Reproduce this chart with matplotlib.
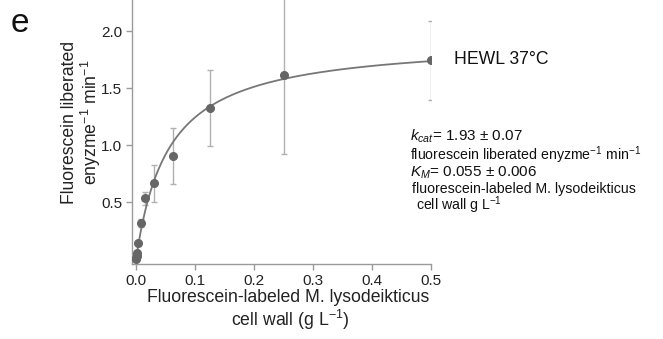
import numpy as np
import matplotlib
matplotlib.use("Agg")
import matplotlib.pyplot as plt

plt.rcParams['font.family'] = ['Liberation Sans', 'DejaVu Sans']
plt.rcParams['mathtext.fontset'] = 'custom'
plt.rcParams['mathtext.rm'] = 'Liberation Sans'
plt.rcParams['mathtext.it'] = 'Liberation Sans:italic'

# data
conc = [0.5, 0.25, 0.125, 0.0625, 0.03125, 0.015625, 0.0078125,
        0.00390625, 0.001953125, 0.0009765625, 0.00048828125, 0.000244140625]
rate = [1.748, 1.617, 1.325, 0.909, 0.667, 0.535, 0.321,
        0.140, 0.058, 0.025, 0.010, 0.002]
err = [0.346, 0.69, 0.332, 0.247, 0.162, 0.06, 0.035,
       0.02, 0.01, 0.01, 0.005, 0.005]
kcat = 1.93
Km = 0.055
x_ticks = [0.0, 0.1, 0.2, 0.3, 0.4, 0.5]
y_ticks = [0.5, 1.0, 1.5, 2.0]

W, H = 663, 339
fig = plt.figure(figsize=(W / 100, H / 100), dpi=100)
ax = fig.add_axes([132 / W, (H - 264) / H, (431 - 132) / W, 264 / H])

gray = '#9a9a9a'
ax.errorbar(conc, rate, yerr=err, fmt='none', ecolor='#b0b0b0',
            elinewidth=1.0, capsize=2.2, capthick=1.0, zorder=1)
xs = np.linspace(0, 0.5, 400)
ax.plot(xs, kcat * xs / (Km + xs), color='#777777', lw=1.3, zorder=2)
ax.plot(conc, rate, 'o', color='#666666', ms=5.5, mec='#666666', zorder=3)

ax.set_xlim(-0.0068, 0.5)
ax.set_ylim(-0.041, 2.275)
ax.set_xticks(x_ticks)
ax.set_xticklabels([f'{t:.1f}' for t in x_ticks])
ax.set_yticks(y_ticks)
ax.set_yticklabels([f'{t:.1f}' for t in y_ticks])
for s in ['top', 'right']:
    ax.spines[s].set_visible(False)
for s in ['left', 'bottom']:
    ax.spines[s].set_color(gray)
    ax.spines[s].set_linewidth(1.0)
ax.tick_params(axis='both', colors=gray, labelcolor='#222222', labelsize=11,
               length=4, width=1.0, direction='out', pad=3)

# labels
fig.text(20 / W, 1 - 24 / H, 'e', fontsize=24, ha='center', va='center', color='#111111')
fig.text(69 / W, 1 - 122.5 / H, 'Fluorescein liberated', rotation=90,
         fontsize=12.7, ha='center', va='center', color='#222222')
fig.text(91 / W, 1 - 122.5 / H, r'enyzme$^{-1}$ min$^{-1}$', rotation=90,
         fontsize=12.7, ha='center', va='center', color='#222222')
fig.text(288 / W, 1 - 297 / H, 'Fluorescein-labeled M. lysodeikticus',
         fontsize=12.7, ha='center', va='center', color='#222222')
fig.text(290 / W, 1 - 320 / H, r'cell wall (g L$^{-1}$)',
         fontsize=12.7, ha='center', va='center', color='#222222')

fig.text(454 / W, 1 - 60 / H, 'HEWL 37°C', fontsize=12.7, ha='left', va='center',
         color='#111111')
fig.text(410 / W, 1 - 136 / H, r'$k_{cat}$= 1.93 ± 0.07', fontsize=11,
         ha='left', va='center', color='#111111')
fig.text(410 / W, 1 - 155 / H, r'fluorescein liberated enyzme$^{-1}$ min$^{-1}$',
         fontsize=10.2, ha='left', va='center', color='#111111')
fig.text(410 / W, 1 - 173 / H, r'$K_M$= 0.055 ± 0.006', fontsize=11,
         ha='left', va='center', color='#111111')
fig.text(412 / W, 1 - 189 / H, 'fluorescein-labeled M. lysodeikticus',
         fontsize=10.2, ha='left', va='center', color='#111111')
fig.text(416 / W, 1 - 205 / H, r'cell wall g L$^{-1}$',
         fontsize=10.2, ha='left', va='center', color='#111111')

fig.savefig('out.png', dpi=100)
